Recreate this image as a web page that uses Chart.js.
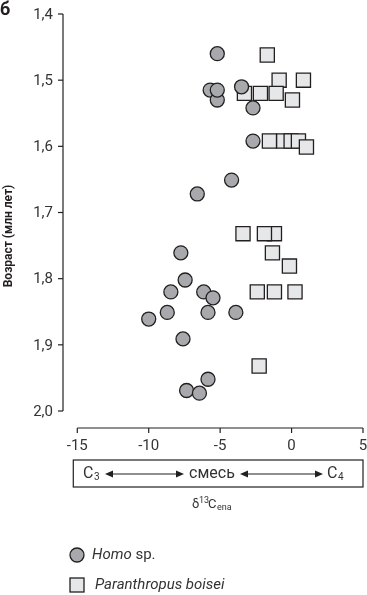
<!DOCTYPE html>
<html lang="ru">
<head>
    <meta charset="UTF-8">
    <title>δ13C — Homo и Paranthropus</title>
    <script src="https://cdn.jsdelivr.net/npm/chart.js"></script>
    <style>
        body { margin: 0; background: #fff; }
        #wrap { width: 367px; height: 595px; }
    </style>
</head>
<body>
    <div id="wrap"><canvas id="isoChart" width="367" height="595"></canvas></div>

    <script>
        // данные (δ13C, возраст в млн лет)
        const homoX = [-5.2, -5.7, -5.2, -5.2, -3.5, -2.7, -2.7, -4.2, -6.6, -7.75, -7.45,
                       -8.45, -6.15, -5.5, -8.7, -10.0, -5.85, -3.9, -7.6, -5.85, -7.35, -6.45];
        const homoY = [1.46, 1.515, 1.53, 1.515, 1.51, 1.542, 1.592, 1.651, 1.672, 1.761, 1.802,
                       1.82, 1.82, 1.829, 1.851, 1.861, 1.851, 1.851, 1.891, 1.952, 1.969, 1.973];

        const paraX = [-1.7, -0.87, 0.83, -3.3, -2.18, -1.08, 0.06, -1.55, -0.55, -0.03, 0.48, 1.04,
                       -3.4, -1.2, -1.9, -1.34, -0.15, -2.4, -1.2, 0.24, -2.27];
        const paraY = [1.462, 1.50, 1.50, 1.52, 1.52, 1.52, 1.53, 1.592, 1.592, 1.592, 1.592, 1.601,
                       1.732, 1.732, 1.732, 1.761, 1.781, 1.82, 1.82, 1.82, 1.932];

        const yTicks = [1.4, 1.5, 1.6, 1.7, 1.8, 1.9, 2.0];
        const yTickLabels = ['1,4', '1,5', '1,6', '1,7', '1,8', '1,9', '2,0'];
        const xTicks = [-15, -10, -5, 0, 5];
        const xTickLabels = ['-15', '-10', '-5', '0', '5'];

        const ink = '#231f20';
        const circleFill = '#a7a9ac';
        const squareFill = '#e6e7e8';

        function toPoints(xs, ys) {
            return xs.map((x, i) => ({ x: x, y: ys[i] }));
        }

        // оси, рамка со стрелками и легенда рисуются здесь
        const extras = {
            id: 'extras',
            afterDraw(chart) {
                const ctx = chart.ctx;
                const xs = chart.scales.x;
                const ys = chart.scales.y;
                const left = chart.chartArea.left;
                ctx.save();
                ctx.strokeStyle = ink;
                ctx.fillStyle = '#333';
                ctx.lineWidth = 1.2;

                // ось Y
                ctx.beginPath();
                ctx.moveTo(left, ys.getPixelForValue(1.4));
                ctx.lineTo(left, ys.getPixelForValue(2.0));
                ctx.stroke();
                ctx.font = '15px Roboto';
                ctx.textAlign = 'right';
                ctx.textBaseline = 'middle';
                yTicks.forEach((v, i) => {
                    const py = ys.getPixelForValue(v);
                    ctx.beginPath();
                    ctx.moveTo(left - 5, py);
                    ctx.lineTo(left, py);
                    ctx.stroke();
                    ctx.fillText(yTickLabels[i], left - 10, py + 1);
                });

                // ось X (смещена вниз)
                const axY = ys.getPixelForValue(2.0) + 17;
                ctx.beginPath();
                ctx.moveTo(xs.getPixelForValue(xTicks[0]), axY);
                ctx.lineTo(xs.getPixelForValue(xTicks[xTicks.length - 1]), axY);
                ctx.stroke();
                ctx.textAlign = 'center';
                xTicks.forEach((v, i) => {
                    const px = xs.getPixelForValue(v);
                    ctx.beginPath();
                    ctx.moveTo(px, axY);
                    ctx.lineTo(px, axY + 5);
                    ctx.stroke();
                    ctx.fillText(xTickLabels[i], px, axY + 18);
                });

                // подпись оси Y
                ctx.save();
                ctx.translate(9, 236);
                ctx.rotate(-Math.PI / 2);
                ctx.font = 'bold 12px Roboto';
                ctx.fillStyle = ink;
                ctx.fillText('Возраст (млн лет)', 0, 0);
                ctx.restore();

                // буква панели
                ctx.textAlign = 'left';
                ctx.font = 'bold 18px Roboto';
                ctx.fillStyle = ink;
                ctx.fillText('б', 0, 10);

                // рамка C3 — смесь — C4
                const bx0 = xs.getPixelForValue(-15) - 4;
                const bx1 = xs.getPixelForValue(5);
                const by0 = 460, by1 = 487, cy = 474;
                ctx.strokeRect(bx0, by0, bx1 - bx0, by1 - by0);
                ctx.fillStyle = '#333';
                ctx.font = '16px Roboto';
                ctx.textBaseline = 'middle';
                ctx.fillText('C', 83, cy);
                ctx.font = '10px Roboto';
                ctx.fillText('3', 94, cy + 3);
                ctx.font = '16px Roboto';
                ctx.fillText('C', 327, cy);
                ctx.font = '10px Roboto';
                ctx.fillText('4', 338, cy + 3);
                ctx.font = '16px Roboto';
                ctx.textAlign = 'center';
                ctx.fillText('смесь', 212, cy);

                function arrow(x0, x1) {
                    ctx.lineWidth = 1;
                    ctx.beginPath();
                    ctx.moveTo(x0 + 4, cy);
                    ctx.lineTo(x1 - 4, cy);
                    ctx.stroke();
                    ctx.fillStyle = ink;
                    ctx.beginPath();
                    ctx.moveTo(x0, cy);
                    ctx.lineTo(x0 + 8, cy - 3.5);
                    ctx.lineTo(x0 + 8, cy + 3.5);
                    ctx.closePath();
                    ctx.fill();
                    ctx.beginPath();
                    ctx.moveTo(x1, cy);
                    ctx.lineTo(x1 - 8, cy - 3.5);
                    ctx.lineTo(x1 - 8, cy + 3.5);
                    ctx.closePath();
                    ctx.fill();
                }
                arrow(105, 184);
                arrow(240, 323);

                // δ13Cena
                ctx.fillStyle = '#333';
                ctx.textAlign = 'left';
                ctx.font = '13px Roboto';
                ctx.fillText('δ', 192, 505);
                ctx.font = '9px Roboto';
                ctx.fillText('13', 199, 501);
                ctx.font = '13px Roboto';
                ctx.fillText('C', 208, 505);
                ctx.font = '9px Roboto';
                ctx.fillText('ena', 217, 508);

                // легенда
                ctx.lineWidth = 1.3;
                ctx.beginPath();
                ctx.arc(77, 555, 7, 0, Math.PI * 2);
                ctx.fillStyle = circleFill;
                ctx.fill();
                ctx.stroke();
                ctx.fillStyle = squareFill;
                ctx.fillRect(70, 578, 14, 14);
                ctx.strokeRect(70, 578, 14, 14);

                ctx.fillStyle = '#333';
                ctx.font = 'italic 15px Roboto';
                ctx.fillText('Homo', 92, 555);
                const w = ctx.measureText('Homo').width;
                ctx.font = '15px Roboto';
                ctx.fillText(' sp.', 92 + w, 555);
                ctx.font = 'italic 15px Roboto';
                ctx.fillText('Paranthropus boisei', 95, 585);

                ctx.restore();
            }
        };

        const chart = new Chart(document.getElementById('isoChart').getContext('2d'), {
            type: 'scatter',
            data: {
                datasets: [
                    {
                        label: 'Homo sp.',
                        data: toPoints(homoX, homoY),
                        pointStyle: 'circle',
                        pointRadius: 7,
                        backgroundColor: circleFill,
                        borderColor: ink,
                        borderWidth: 1.3,
                        clip: false
                    },
                    {
                        label: 'Paranthropus boisei',
                        data: toPoints(paraX, paraY),
                        pointStyle: 'rect',
                        pointRadius: 10,
                        backgroundColor: squareFill,
                        borderColor: ink,
                        borderWidth: 1.3,
                        clip: false
                    }
                ]
            },
            options: {
                responsive: false,
                animation: false,
                layout: { autoPadding: false, padding: { left: 63, right: 4, top: 14, bottom: 184 } },
                plugins: { legend: { display: false }, tooltip: { enabled: false } },
                scales: {
                    x: { type: 'linear', min: -16, max: 5, display: false },
                    y: { type: 'linear', min: 1.4, max: 2.0, reverse: true, display: false }
                }
            },
            plugins: [extras]
        });
    </script>
</body>
</html>
